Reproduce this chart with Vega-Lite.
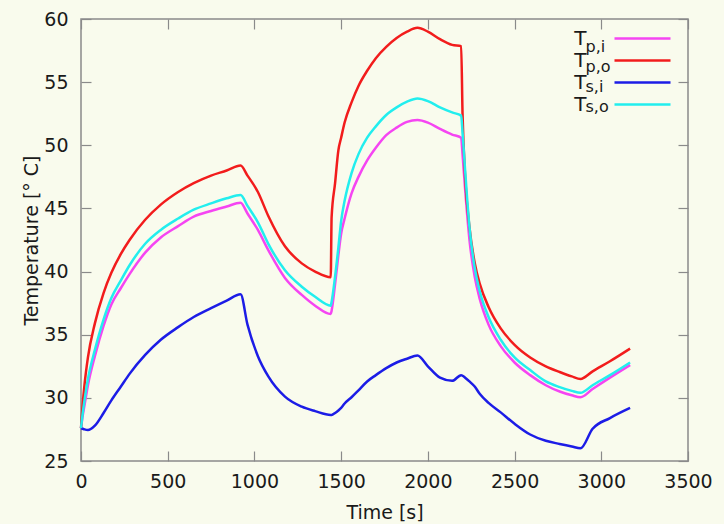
{
  "$schema": "https://vega.github.io/schema/vega-lite/v6.json",
  "width": 607,
  "height": 442,
  "autosize": "none",
  "padding": {"left": 81, "top": 19, "right": 36, "bottom": 63},
  "background": "#f9fbed",
  "config": {
    "view": {"stroke": "#8a8a8a", "strokeWidth": 1.5},
    "font": "DejaVu Sans",
    "axis": {
      "domain": false,
      "grid": false,
      "zindex": 1,
      "tickColor": "#8a8a8a",
      "tickWidth": 1.2,
      "tickSize": -10,
      "labelFont": "DejaVu Sans",
      "labelFontSize": 19,
      "labelColor": "#1a1a1a",
      "titleFont": "DejaVu Sans",
      "titleFontSize": 19,
      "titleFontWeight": "normal",
      "titleColor": "#1a1a1a"
    }
  },
  "data": {
    "values": [
      {"t": 0, "pi": 27.6, "po": 27.6, "si": 27.6, "so": 27.6},
      {"t": 10, "pi": 28.6, "po": 29.5, "si": 27.55, "so": 28.8},
      {"t": 20, "pi": 29.4, "po": 31.0, "si": 27.5, "so": 29.8},
      {"t": 40, "pi": 31.0, "po": 33.2, "si": 27.45, "so": 31.5},
      {"t": 80, "pi": 33.3, "po": 35.9, "si": 27.8, "so": 33.8},
      {"t": 130, "pi": 35.7, "po": 38.3, "si": 28.8, "so": 36.2},
      {"t": 175, "pi": 37.4, "po": 39.9, "si": 29.8, "so": 37.9},
      {"t": 230, "pi": 38.7, "po": 41.4, "si": 30.9, "so": 39.3},
      {"t": 280, "pi": 39.8, "po": 42.5, "si": 31.9, "so": 40.5},
      {"t": 370, "pi": 41.5, "po": 44.1, "si": 33.4, "so": 42.2},
      {"t": 460, "pi": 42.7, "po": 45.3, "si": 34.6, "so": 43.3},
      {"t": 560, "pi": 43.6, "po": 46.3, "si": 35.6, "so": 44.2},
      {"t": 650, "pi": 44.35, "po": 47.0, "si": 36.4, "so": 44.9},
      {"t": 750, "pi": 44.8, "po": 47.6, "si": 37.1, "so": 45.4},
      {"t": 840, "pi": 45.15, "po": 48.0, "si": 37.7, "so": 45.8},
      {"t": 920, "pi": 45.45, "po": 48.4, "si": 38.2, "so": 46.06},
      {"t": 960, "pi": 44.6, "po": 47.6, "si": 35.8, "so": 45.2},
      {"t": 1020, "pi": 43.3, "po": 46.3, "si": 33.3, "so": 43.9},
      {"t": 1080, "pi": 41.7, "po": 44.4, "si": 31.7, "so": 42.2},
      {"t": 1176, "pi": 39.5, "po": 42.0, "si": 30.1, "so": 40.1},
      {"t": 1273, "pi": 38.15, "po": 40.65, "si": 29.3, "so": 38.8},
      {"t": 1350, "pi": 37.3, "po": 40.0, "si": 28.95, "so": 38.0},
      {"t": 1440, "pi": 36.64, "po": 39.55, "si": 28.65, "so": 37.3},
      {"t": 1445, "pi": 36.9, "po": 44.3, "si": 28.65, "so": 37.6},
      {"t": 1465, "pi": 39.0, "po": 47.0, "si": 28.8, "so": 39.6},
      {"t": 1484, "pi": 41.3, "po": 49.6, "si": 29.0, "so": 41.9},
      {"t": 1500, "pi": 43.0, "po": 50.6, "si": 29.2, "so": 44.0},
      {"t": 1520, "pi": 44.2, "po": 51.8, "si": 29.55, "so": 45.6},
      {"t": 1560, "pi": 46.2, "po": 53.4, "si": 30.05, "so": 47.8},
      {"t": 1600, "pi": 47.5, "po": 54.7, "si": 30.6, "so": 49.3},
      {"t": 1650, "pi": 48.8, "po": 55.9, "si": 31.3, "so": 50.6},
      {"t": 1700, "pi": 49.8, "po": 56.9, "si": 31.8, "so": 51.5},
      {"t": 1760, "pi": 50.8, "po": 57.8, "si": 32.35, "so": 52.4},
      {"t": 1820, "pi": 51.4, "po": 58.5, "si": 32.8, "so": 53.0},
      {"t": 1880, "pi": 51.85, "po": 59.0, "si": 33.1, "so": 53.45},
      {"t": 1940, "pi": 52.0, "po": 59.3, "si": 33.35, "so": 53.7},
      {"t": 2000, "pi": 51.8, "po": 59.0, "si": 32.5, "so": 53.5},
      {"t": 2070, "pi": 51.3, "po": 58.4, "si": 31.6, "so": 53.0},
      {"t": 2140, "pi": 50.85, "po": 57.95, "si": 31.35, "so": 52.6},
      {"t": 2192, "pi": 50.6, "po": 57.85, "si": 31.8, "so": 52.35},
      {"t": 2200, "pi": 49.3, "po": 52.5, "si": 31.75, "so": 51.0},
      {"t": 2215, "pi": 46.5, "po": 47.5, "si": 31.6, "so": 48.0},
      {"t": 2240, "pi": 42.5, "po": 43.5, "si": 31.3, "so": 43.5},
      {"t": 2270, "pi": 39.6, "po": 40.7, "si": 30.9, "so": 40.3},
      {"t": 2300, "pi": 37.8, "po": 39.0, "si": 30.3, "so": 38.4},
      {"t": 2350, "pi": 35.8, "po": 37.2, "si": 29.6, "so": 36.4},
      {"t": 2420, "pi": 34.1, "po": 35.5, "si": 28.85, "so": 34.6},
      {"t": 2500, "pi": 32.8, "po": 34.2, "si": 27.95, "so": 33.2},
      {"t": 2590, "pi": 31.8, "po": 33.2, "si": 27.1, "so": 32.2},
      {"t": 2680, "pi": 31.0, "po": 32.5, "si": 26.6, "so": 31.3},
      {"t": 2760, "pi": 30.5, "po": 32.05, "si": 26.35, "so": 30.85},
      {"t": 2830, "pi": 30.2, "po": 31.7, "si": 26.15, "so": 30.55},
      {"t": 2880, "pi": 30.05, "po": 31.5, "si": 26.0, "so": 30.4},
      {"t": 2950, "pi": 30.7, "po": 32.1, "si": 27.55, "so": 31.0},
      {"t": 3050, "pi": 31.6, "po": 32.9, "si": 28.4, "so": 31.8},
      {"t": 3166, "pi": 32.6, "po": 33.9, "si": 29.2, "so": 32.8}
    ]
  },
  "transform": [{"fold": ["pi", "po", "si", "so"], "as": ["s", "v"]}],
  "layer": [
    {
      "mark": {"type": "line", "strokeWidth": 2.5, "interpolate": "monotone"},
      "encoding": {
        "x": {
          "field": "t", "type": "quantitative",
          "scale": {"domain": [0, 3500], "nice": false},
          "axis": {"orient": "bottom", "values": [0, 500, 1000, 1500, 2000, 2500, 3000, 3500], "format": "d", "title": "Time [s]", "labelPadding": 21, "labelFlush": false, "titlePadding": 12}
        },
        "y": {
          "field": "v", "type": "quantitative",
          "scale": {"domain": [25, 60], "nice": false, "zero": false},
          "axis": {"orient": "left", "values": [25, 30, 35, 40, 45, 50, 55, 60], "title": "Temperature [° C]", "labelPadding": 23, "labelFlush": false, "titleX": -50, "titleY": 221, "titleAngle": -90, "titleAlign": "center", "titleBaseline": "middle"}
        },
        "color": {
          "field": "s", "type": "nominal",
          "scale": {"domain": ["pi", "po", "si", "so"], "range": ["#f545f2", "#f21c1c", "#1c1ce6", "#22eeee"]},
          "legend": {
            "title": null,
            "orient": "none",
            "legendX": 550,
            "legendY": 8,
            "padding": 0,
            "symbolType": "M-2.8,0H2.8",
            "symbolSize": 400,
            "symbolStrokeWidth": 2.5,
            "labelFont": "DejaVu Sans",
            "labelFontSize": 20,
            "labelColor": "#1a1a1a",
            "labelAlign": "right",
            "labelOffset": -67.5,
            "rowPadding": -2,
            "labelExpr": "'T'"
          }
        }
      }
    },
    {
      "mark": {"type": "point", "opacity": 0},
      "encoding": {
        "x": {"field": "t", "type": "quantitative", "axis": {"orient": "top", "values": [0, 500, 1000, 1500, 2000, 2500, 3000, 3500], "labels": false, "title": null}},
        "y": {"field": "v", "type": "quantitative", "axis": {"orient": "right", "values": [25, 30, 35, 40, 45, 50, 55, 60], "labels": false, "title": null}},
        "shape": {
          "field": "s", "type": "nominal",
          "scale": {"range": ["M-2.8,0H2.8", "M-2.8,0H2.8", "M-2.8,0H2.8", "M-2.8,0H2.8"]},
          "legend": {
            "title": null,
            "orient": "none",
            "legendX": 550,
            "legendY": 16,
            "padding": 0,
            "symbolSize": 400,
            "symbolStrokeWidth": 2.5,
            "symbolOpacity": 0,
            "labelFont": "DejaVu Sans",
            "labelFontSize": 16,
            "labelColor": "#1a1a1a",
            "labelAlign": "left",
            "labelOffset": -68.5,
            "rowPadding": -2,
            "labelExpr": "datum.label == 'pi' ? 'p,i' : datum.label == 'po' ? 'p,o' : datum.label == 'si' ? 's,i' : 's,o'"
          }
        }
      }
    }
  ],
  "resolve": {"axis": {"x": "independent", "y": "independent"}}
}
